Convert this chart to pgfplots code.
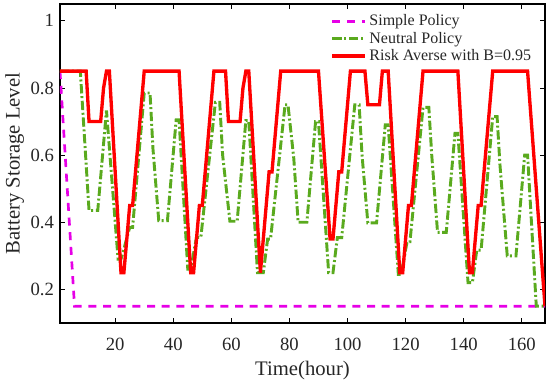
\documentclass[border=0pt]{standalone}
\usepackage{pgfplots}
\pgfplotsset{compat=1.18}
\usepackage{fontspec}
\setmainfont{Liberation Serif}
\definecolor{mgreen}{RGB}{90,170,30}
\definecolor{mmag}{RGB}{230,0,230}
\definecolor{mred}{RGB}{255,0,0}
\begin{document}
\begin{tikzpicture}
\begin{axis}[
  scale only axis,
  width=363.75pt, height=239.25pt,
  xmin=1, xmax=168, ymin=0.1, ymax=1.05,
  xtick={20,40,60,80,100,120,140,160},
  ytick={0.2,0.4,0.6,0.8,1},
  yticklabels={0.2,0.4,0.6,0.8,1},
  /pgf/number format/assume math mode=true,
  tick label style={font=\fontsize{14}{16}\selectfont, text=black!85},
  xticklabel style={yshift=-7.5pt},
  yticklabel style={xshift=-1pt},
  tick align=inside,
  major tick length=3.75pt,
  axis line style={line width=0.8pt},
  every tick/.style={black, line width=0.6pt},
  xlabel={Time(hour)},
  ylabel={Battery Storage Level},
  label style={font=\fontsize{15.5}{18}\selectfont, text=black!85},
  xlabel style={yshift=-1.5pt},
  ylabel style={yshift=-2pt},
  legend style={at={(0.98,0.98)}, anchor=north east, draw=none, fill=none,
    font=\fontsize{12}{14}\selectfont, row sep=-0.8pt, inner sep=1pt, text=black!85},
  legend cell align=left,
  legend image code/.code={\draw[#1] (0pt,0pt) -- (24.5pt,0pt);},
]
\addplot[mmag, line width=2pt, dash pattern=on 6pt off 5pt] coordinates {
(1,0.85)(2,0.71)(3,0.57)(4,0.43)(5,0.29)(6,0.15)(168,0.15)};
\addlegendentry{Simple Policy}
\addplot[mgreen, line width=2.2pt, dash pattern=on 7pt off 2pt on 1.5pt off 2pt] coordinates {
(1,0.85)(8,0.85)(11,0.435)(14,0.435)(17,0.733)(21,0.29)(22,0.29)(23,0.32)(25,0.385)(26,0.385)
(30,0.785)(32,0.785)(33,0.62)(35,0.405)(38,0.405)(41,0.705)(42,0.705)(45,0.26)(46,0.26)
(48,0.355)(49.5,0.355)(54.5,0.757)(56,0.757)(57,0.6)(59.5,0.403)(62,0.403)(65,0.703)(66,0.703)
(69,0.25)(71,0.25)(72.5,0.35)(73.5,0.35)(78.5,0.75)(79.5,0.75)(81.5,0.59)(83,0.40)(86,0.40)
(89,0.70)(90,0.70)(93.5,0.25)(95,0.25)(96.5,0.354)(98,0.354)(102.5,0.75)(104,0.75)(105,0.6)
(107,0.398)(110,0.398)(113,0.69)(114,0.69)(117.5,0.245)(118.5,0.245)(120.5,0.342)(121.5,0.342)
(126,0.742)(128,0.742)(129,0.6)(131,0.37)(134,0.37)(137,0.665)(138,0.665)(141.5,0.22)(143,0.22)
(144.5,0.317)(146,0.317)(150,0.715)(151.5,0.715)(152.5,0.57)(155,0.30)(158,0.30)(161,0.60)
(162,0.60)(165,0.15)(168,0.15)};
\addlegendentry{Neutral Policy}
\addplot[mred, line width=2.5pt] coordinates {
(1,0.85)(10,0.85)(11,0.70)(15,0.70)(16,0.80)(17,0.85)(18,0.85)(22,0.25)(23,0.25)(25,0.45)(26,0.45)
(30,0.85)(42,0.85)(46,0.25)(47,0.25)(49,0.45)(50,0.45)(54,0.85)(58,0.85)(59,0.70)(63,0.70)
(64,0.80)(65,0.85)(66,0.85)(70,0.25)(73,0.55)(74,0.55)(77,0.85)(90,0.85)(94,0.35)(95,0.35)
(97,0.55)(98,0.55)(101,0.85)(106,0.85)(107,0.75)(111,0.75)(112,0.85)(114,0.85)(118,0.25)
(119,0.25)(121,0.45)(122,0.45)(126,0.85)(138,0.85)(142,0.25)(143,0.25)(145,0.45)(146,0.45)
(150,0.85)(162,0.85)(168,0.15)};
\addlegendentry{Risk Averse with B=0.95}
\end{axis}
\pgfresetboundingbox
\path[use as bounding box] (-45pt,-44.25pt) rectangle (367.5pt,242.25pt);
\end{tikzpicture}
\end{document}
